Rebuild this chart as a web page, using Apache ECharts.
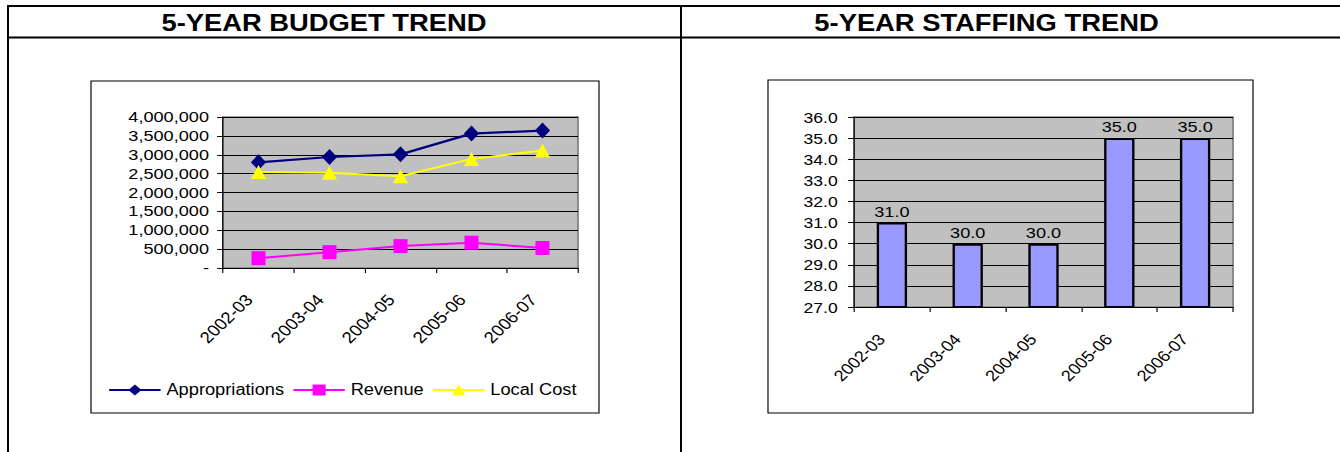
<!DOCTYPE html>
<html>
<head>
<meta charset="utf-8">
<script src="https://cdn.jsdelivr.net/npm/echarts@6/dist/echarts.min.js"></script>
<style>
html,body{margin:0;padding:0;background:#fff;overflow:hidden;}
#wrap{width:1340px;height:452px;overflow:hidden;}
#chart{width:1146px;height:452px;transform:scaleX(1.1693);transform-origin:0 0;}
</style>
</head>
<body>
<div id="wrap"><div id="chart"></div></div>
<script>
// ---- data ----
const years = ['2002-03', '2003-04', '2004-05', '2005-06', '2006-07'];
const appropriations = [2800000, 2940000, 3010000, 3560000, 3640000];
const revenue = [260000, 420000, 580000, 670000, 530000];
const localCost = [2540000, 2520000, 2430000, 2890000, 3110000];
const staffing = [31.0, 30.0, 30.0, 35.0, 35.0];
const budgetTitle = '5-YEAR BUDGET TREND';
const staffingTitle = '5-YEAR STAFFING TREND';

const FONT = '"Liberation Sans", Arial, sans-serif';
const S = 1.1693; // horizontal stretch of the reference
const X = v => v / S;

const chart = echarts.init(document.getElementById('chart'), null, {renderer: 'svg'});

function line(x1, y1, x2, y2, w) {
  return {type: 'line', shape: {x1, y1, x2, y2}, style: {stroke: '#000', lineWidth: w}, silent: true};
}

const option = {
  animation: false,
  backgroundColor: '#fff',
  textStyle: {fontFamily: FONT, color: '#000'},
  graphic: [
    line(X(7.3), 6, 1146, 6, 2),
    line(X(7.3), 37.5, 1146, 37.5, 2),
    line(X(8), 5, X(8), 452, 1.7),
    line(X(681), 5, X(681), 452, 1.7),
    {type: 'rect', shape: {x: X(91), y: 81, width: X(599) - X(91), height: 332},
      style: {fill: 'none', stroke: '#000', lineWidth: 1}, silent: true, z: -1},
    {type: 'rect', shape: {x: X(768), y: 80, width: X(1253) - X(768), height: 333},
      style: {fill: 'none', stroke: '#000', lineWidth: 1}, silent: true, z: -1},
    {type: 'text', style: {text: budgetTitle, x: X(324), y: 23, fontSize: 23.4, fontWeight: 'bold', fontFamily: FONT,
      fill: '#000', align: 'center', verticalAlign: 'middle', textAlign: 'center', textVerticalAlign: 'middle'}},
    {type: 'text', style: {text: staffingTitle, x: X(986.5), y: 23, fontSize: 23.4, fontWeight: 'bold', fontFamily: FONT,
      fill: '#000', align: 'center', verticalAlign: 'middle', textAlign: 'center', textVerticalAlign: 'middle'}}
  ],
  legend: {
    left: X(108), top: 382, padding: 0,
    itemWidth: 44, itemHeight: 14, itemGap: 7,
    lineStyle: {width: 2},
    textStyle: {fontSize: 15.6, fontFamily: FONT, color: '#000'},
    data: ['Appropriations', 'Revenue', 'Local Cost']
  },
  grid: [
    {left: X(223), top: 117, width: X(578) - X(223), height: 151, show: true,
      backgroundColor: '#C0C0C0', borderColor: '#808080', borderWidth: 1.5},
    {left: X(854), top: 117, width: X(1233) - X(854), height: 190, show: true,
      backgroundColor: '#C0C0C0', borderColor: '#808080', borderWidth: 1.5}
  ],
  xAxis: [
    {type: 'category', gridIndex: 0, data: years, boundaryGap: true,
      axisLine: {lineStyle: {color: '#000', width: 1}},
      axisTick: {show: true, length: 5, lineStyle: {color: '#000'}},
      axisLabel: {rotate: 48, margin: 20, padding: [0, 12, 0, 0], fontSize: 16, color: '#000', fontFamily: FONT, interval: 0}},
    {type: 'category', gridIndex: 1, data: years, boundaryGap: true,
      axisLine: {lineStyle: {color: '#000', width: 1}},
      axisTick: {show: true, length: 5, lineStyle: {color: '#000'}},
      axisLabel: {rotate: 48, margin: 20, padding: [0, 13, 0, 0], fontSize: 15.5, color: '#000', fontFamily: FONT, interval: 0}}
  ],
  yAxis: [
    {type: 'value', gridIndex: 0, min: 0, max: 4000000, interval: 500000,
      axisLine: {show: true, lineStyle: {color: '#000'}},
      axisTick: {show: true, length: 5, lineStyle: {color: '#000'}},
      splitLine: {show: true, lineStyle: {color: '#000', width: 1}},
      axisLabel: {margin: 12, fontSize: 15.5, color: '#000', fontFamily: FONT,
        formatter: v => v === 0 ? '-' : v.toLocaleString('en-US')}},
    {type: 'value', gridIndex: 1, min: 27, max: 36, interval: 1,
      axisLine: {show: true, lineStyle: {color: '#000'}},
      axisTick: {show: true, length: 5, lineStyle: {color: '#000'}},
      splitLine: {show: true, lineStyle: {color: '#000', width: 1}},
      axisLabel: {margin: 14, fontSize: 15, color: '#000', fontFamily: FONT,
        formatter: v => v.toFixed(1)}}
  ],
  series: [
    {name: 'Appropriations', type: 'line', xAxisIndex: 0, yAxisIndex: 0, data: appropriations,
      symbol: 'diamond', symbolSize: [13, 16], color: '#000080',
      lineStyle: {color: '#000080', width: 2.2}, itemStyle: {color: '#000080'}},
    {name: 'Revenue', type: 'line', xAxisIndex: 0, yAxisIndex: 0, data: revenue,
      symbol: 'rect', symbolSize: [12, 14], color: '#FF00FF',
      lineStyle: {color: '#FF00FF', width: 2}, itemStyle: {color: '#FF00FF'}},
    {name: 'Local Cost', type: 'line', xAxisIndex: 0, yAxisIndex: 0, data: localCost,
      symbol: 'triangle', symbolSize: [13, 14], color: '#FFFF00',
      lineStyle: {color: '#FFFF00', width: 2}, itemStyle: {color: '#FFFF00'}},
    {name: 'Staffing', type: 'bar', xAxisIndex: 1, yAxisIndex: 1, data: staffing,
      barWidth: '40%',
      itemStyle: {color: '#9999FF', borderColor: '#000', borderWidth: 2},
      label: {show: true, position: 'top', distance: 3, fontSize: 15.5, color: '#000', fontFamily: FONT,
        formatter: p => p.value.toFixed(1)}}
  ]
};
chart.setOption(option);
</script>
</body>
</html>
